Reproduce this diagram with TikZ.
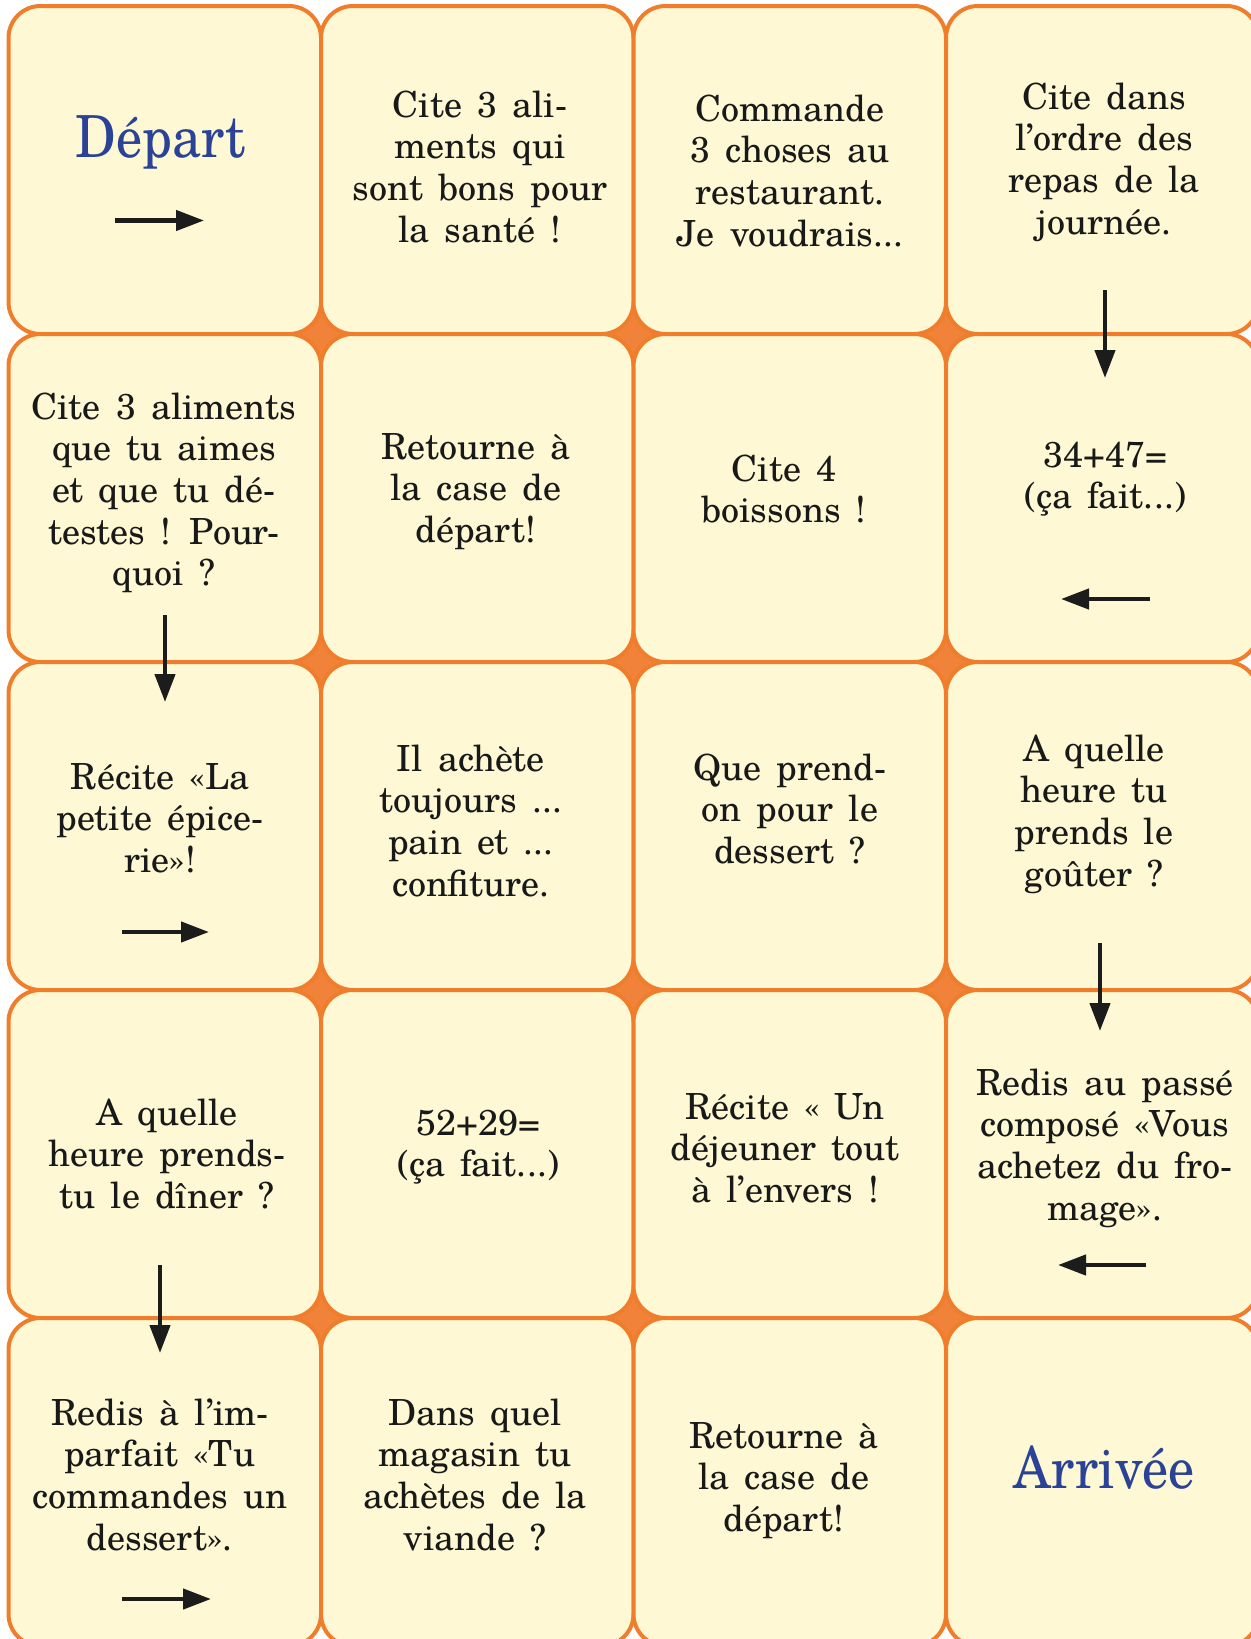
\documentclass[tikz,border=0pt]{standalone}
\usepackage{fontspec}
\setmainfont{texgyreschola}[Extension=.otf,UprightFont=*-regular,BoldFont=*-bold,ItalicFont=*-italic,BoldItalicFont=*-bolditalic]
\newfontfamily\titlefont{texgyreschola}[Extension=.otf,UprightFont=*-regular,FakeStretch=0.9]
\usetikzlibrary{arrows.meta}
\definecolor{cream}{HTML}{FEF9D4}
\definecolor{orangeline}{HTML}{F07D2C}
\definecolor{orangestar}{HTML}{F0823A}
\definecolor{titleblue}{HTML}{2A4396}
\definecolor{arrowc}{HTML}{1C1C1C}
\newcommand\celllines[1]{\vtop{\lineskiplimit=-\maxdimen\lineskip=0pt\halign{\hfil##\hfil\cr#1\crcr}}}
\tikzset{
  cellbox/.style={draw=orangeline, fill=cream, line width=2pt, rounded corners=16pt,
    minimum width=156.25pt, minimum height=164pt, inner sep=0pt, outer sep=0pt},
  starfill/.style={fill=orangestar},
  txt/.style={anchor=base, inner sep=0pt, text=black!90,
    font={\fontsize{18}{20.85}\selectfont\spaceskip=0.42em\relax}},
  titletxt/.style={anchor=base, inner sep=0pt, text=titleblue,
    font={\titlefont\fontsize{29}{34}\selectfont}},
  arr/.style={draw=arrowc, line width=2.2pt, -{Triangle[length=14pt,width=10pt]}}
}
\begin{document}
\begin{tikzpicture}[x=0.5pt,y=-0.5pt]
\useasboundingbox (0,0) rectangle (1250,1639);
\fill[white] (0,0) rectangle (1250,1639);
% stars at interior crossings
\foreach \sx in {321,633.5,946}{
  \foreach \sy in {334,662,990,1318}{
    \fill[starfill] (\sx-33,\sy-33) rectangle (\sx+33,\sy+33);
  }
}
% cells
\node[cellbox] (c11) at (164.75,170) {};
\node[cellbox] (c12) at (477.25,170) {};
\node[cellbox] (c13) at (789.75,170) {};
\node[cellbox] (c14) at (1102.25,170) {};
\node[cellbox] (c21) at (164.75,498) {};
\node[cellbox] (c22) at (477.25,498) {};
\node[cellbox] (c23) at (789.75,498) {};
\node[cellbox] (c24) at (1102.25,498) {};
\node[cellbox] (c31) at (164.75,826) {};
\node[cellbox] (c32) at (477.25,826) {};
\node[cellbox] (c33) at (789.75,826) {};
\node[cellbox] (c34) at (1102.25,826) {};
\node[cellbox] (c41) at (164.75,1154) {};
\node[cellbox] (c42) at (477.25,1154) {};
\node[cellbox] (c43) at (789.75,1154) {};
\node[cellbox] (c44) at (1102.25,1154) {};
\node[cellbox] (c51) at (164.75,1482) {};
\node[cellbox] (c52) at (477.25,1482) {};
\node[cellbox] (c53) at (789.75,1482) {};
\node[cellbox] (c54) at (1102.25,1482) {};
% texts
\node[titletxt] (t11) at (161,157) {Départ};
\node[txt] (t12) at (480,117) {\celllines{Cite 3 ali-\cr ments qui\cr sont bons pour\cr la santé !}};
\node[txt] (t13) at (790,121) {\celllines{Commande\cr 3 choses au\cr restaurant.\cr Je voudrais...}};
\node[txt] (t14) at (1104,109) {\celllines{Cite dans\cr l’ordre des\cr repas de la\cr journée.}};
\node[txt] (t21) at (164,419) {\celllines{Cite 3 aliments\cr que tu aimes\cr et que tu dé-\cr testes ! Pour-\cr quoi ?}};
\node[txt] (t22) at (476,459) {\celllines{Retourne à\cr la case de\cr départ!}};
\node[txt] (t23) at (784,481) {\celllines{Cite 4\cr boissons !}};
\node[txt] (t24) at (1105,467) {\celllines{34+47=\cr (ça fait...)}};
\node[txt] (t31) at (160,789) {\celllines{Récite «La\cr petite épice-\cr rie»!}};
\node[txt] (t32) at (471,771) {\celllines{Il achète\cr toujours ...\cr pain et ...\cr confiture.}};
\node[txt] (t33) at (790,780) {\celllines{Que prend-\cr on pour le\cr dessert ?}};
\node[txt] (t34) at (1094,761) {\celllines{A quelle\cr heure tu\cr prends le\cr goûter ?}};
\node[txt] (t41) at (167,1125) {\celllines{A quelle\cr heure prends-\cr tu le dîner ?}};
\node[txt] (t42) at (478,1135) {\celllines{52+29=\cr (ça fait...)}};
\node[txt] (t43) at (785,1119) {\celllines{Récite « Un\cr déjeuner tout\cr à l’envers !}};
\node[txt] (t44) at (1105,1095) {\celllines{Redis au passé\cr composé «Vous\cr achetez du fro-\cr mage».}};
\node[txt] (t51) at (160,1425) {\celllines{Redis à l’im-\cr parfait «Tu\cr commandes un\cr dessert».}};
\node[txt] (t52) at (475,1425) {\celllines{Dans quel\cr magasin tu\cr achètes de la\cr viande ?}};
\node[txt] (t53) at (784,1448) {\celllines{Retourne à\cr la case de\cr départ!}};
\node[titletxt] (t54) at (1104,1488) {Arrivée};
% arrows
\coordinate (a1s) at (115,220.5);  \coordinate (a1e) at (204,220.5);
\coordinate (a2s) at (1105,290);   \coordinate (a2e) at (1105,378);
\coordinate (a3s) at (1150,599);   \coordinate (a3e) at (1061,599);
\coordinate (a4s) at (165,615);    \coordinate (a4e) at (165,702);
\coordinate (a5s) at (122,932);    \coordinate (a5e) at (209,932);
\coordinate (a6s) at (1100,943);   \coordinate (a6e) at (1100,1031);
\coordinate (a7s) at (1146,1265);  \coordinate (a7e) at (1058,1265);
\coordinate (a8s) at (160,1265);   \coordinate (a8e) at (160,1353);
\coordinate (a9s) at (122,1599);   \coordinate (a9e) at (211,1599);
\draw[arr] (a1s) -- (a1e);
\draw[arr] (a2s) -- (a2e);
\draw[arr] (a3s) -- (a3e);
\draw[arr] (a4s) -- (a4e);
\draw[arr] (a5s) -- (a5e);
\draw[arr] (a6s) -- (a6e);
\draw[arr] (a7s) -- (a7e);
\draw[arr] (a8s) -- (a8e);
\draw[arr] (a9s) -- (a9e);
\end{tikzpicture}
\end{document}
